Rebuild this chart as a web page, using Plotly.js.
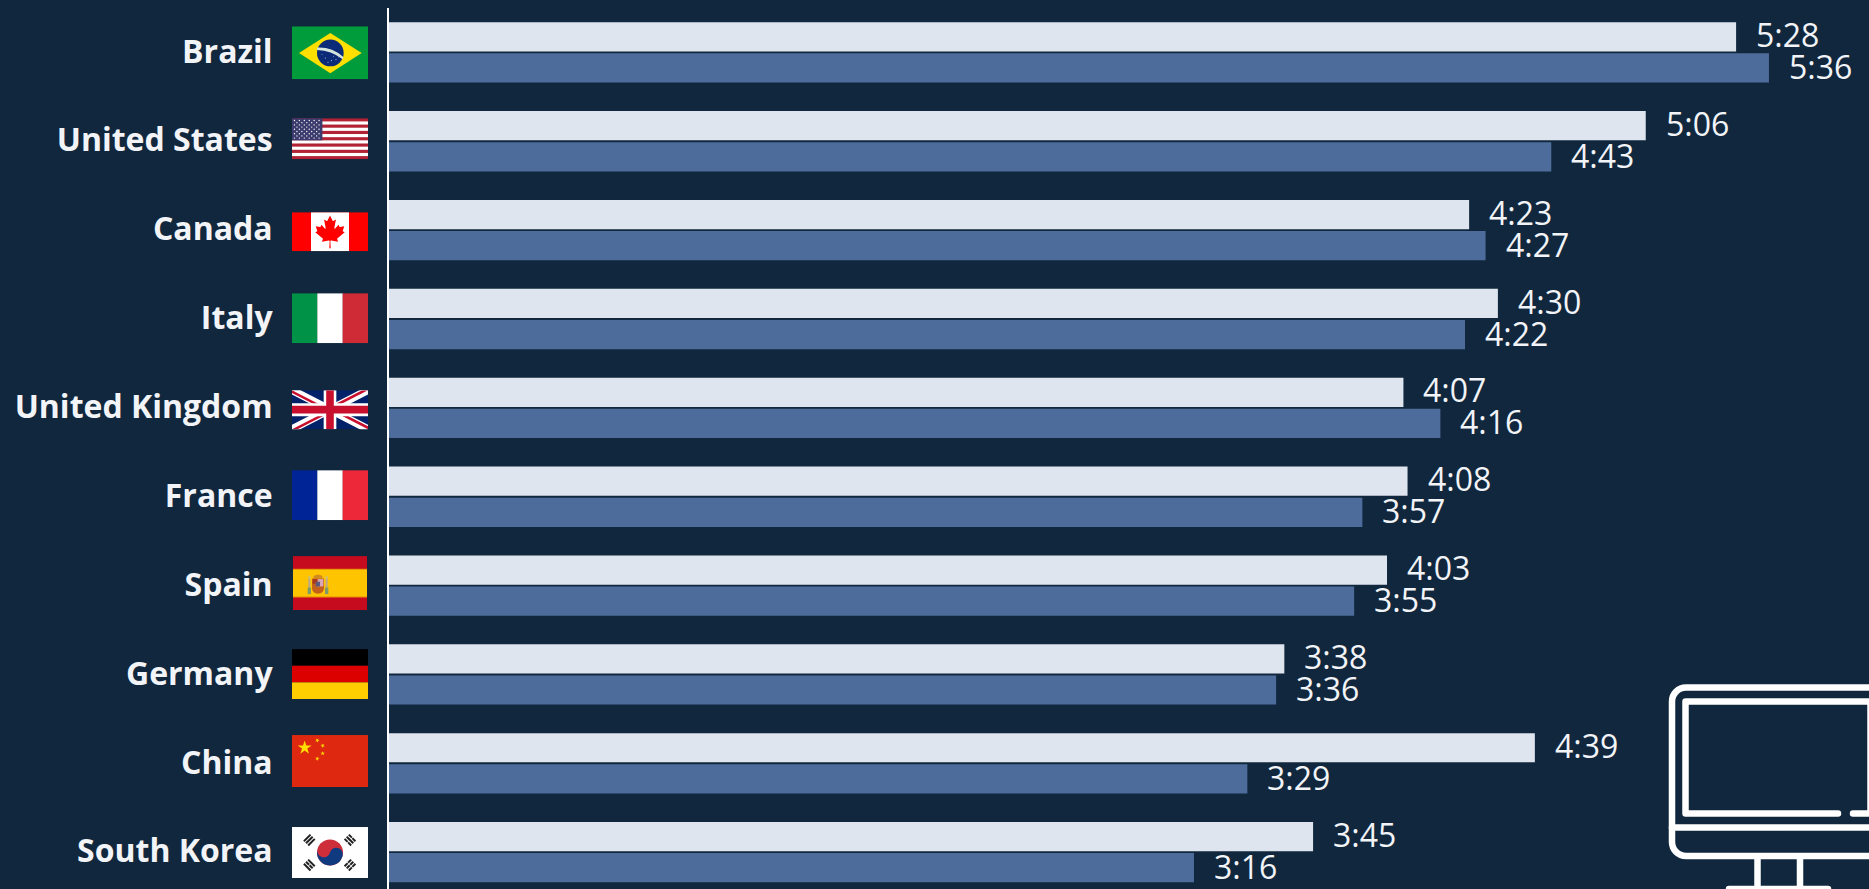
<!DOCTYPE html>
<html>
<head>
<meta charset="utf-8">
<title>Daily time online by country</title>
<script src="https://cdn.plot.ly/plotly-3.0.1.min.js"></script>
<style>
  html, body { margin: 0; padding: 0; background: #11273d; overflow: hidden; }
  #chart { width: 1869px; height: 889px; }
</style>
</head>
<body>
<div id="chart"></div>
<script>
// Countries, top to bottom
const countries = ['Brazil', 'United States', 'Canada', 'Italy', 'United Kingdom',
                   'France', 'Spain', 'Germany', 'China', 'South Korea'];

// Daily time as h:mm
const lightSeries = ['5:28', '5:06', '4:23', '4:30', '4:07', '4:08', '4:03', '3:38', '4:39', '3:45'];
const darkSeries  = ['5:36', '4:43', '4:27', '4:22', '4:16', '3:57', '3:55', '3:36', '3:29', '3:16'];

const toMinutes = s => { const [h, m] = s.split(':').map(Number); return h * 60 + m; };

const BG = '#11273d';
const LIGHT = '#dfe5ef';
const DARK = '#4d6c9b';
const WIDTH = 1869, HEIGHT = 889;
const M = { l: 389, r: 0, t: 7.7, b: 0 };
const plotW = WIDTH - M.l - M.r, plotH = HEIGHT - M.t - M.b;
const PX_PER_ROW = 88.89;

const svgUri = (w, h, vb, body) => 'data:image/svg+xml;charset=utf-8,' + encodeURIComponent(
  `<svg xmlns="http://www.w3.org/2000/svg" width="${w}" height="${h}" viewBox="${vb}" preserveAspectRatio="none">${body}</svg>`);

// Flag artwork, each in its own drawing units
const bars = colors => colors.map((c, i) =>
  `<rect x="${i * 100}" y="0" width="100.5" height="200" fill="${c}"/>`).join('');

const usStripes = () => {
  let s = '<rect width="247" height="130" fill="#b22234"/>';
  for (let i = 1; i < 13; i += 2) s += `<rect y="${i * 10}" width="247" height="10" fill="#fff"/>`;
  return s;
};

const star = (cx, cy, r, rot, fill) => {
  let pts = [];
  for (let i = 0; i < 10; i++) {
    const a = (rot + i * 36 - 90) * Math.PI / 180, q = i % 2 ? r * 0.382 : r;
    pts.push((cx + q * Math.cos(a)).toFixed(2) + ',' + (cy + q * Math.sin(a)).toFixed(2));
  }
  return `<polygon points="${pts.join(' ')}" fill="${fill}"/>`;
};

const usStars = () => {
  let s = '';
  for (let r = 0; r < 9; r++) {
    const n = r % 2 ? 5 : 6;
    for (let c = 0; c < n; c++) {
      s += `<circle cx="${(r % 2 ? 16 : 8) + c * 16}" cy="${7 + r * 7}" r="2.2" fill="#fff"/>`;
    }
  }
  return s;
};

const trigram = (x, y, rot, pattern) => {
  let s = `<g transform="translate(${x} ${y}) rotate(${rot})">`;
  pattern.forEach((broken, i) => {
    const yy = -12 + i * 9;
    if (broken) {
      s += `<rect x="-14" y="${yy}" width="13" height="6" fill="#222"/><rect x="1" y="${yy}" width="13" height="6" fill="#222"/>`;
    } else {
      s += `<rect x="-14" y="${yy}" width="28" height="6" fill="#222"/>`;
    }
  });
  return s + '</g>';
};

const flagArt = {
  'Brazil': ['0 0 228 159',
    `<rect width="228" height="159" fill="#009b3a"/>
     <polygon points="21,80 115,20 209,80 115,141" fill="#fedf00"/>
     <circle cx="115" cy="80" r="40" fill="#0b2a78"/>
     <path d="M76,64 Q120,62 154,92 L152,99 Q118,72 75,71 Z" fill="#d7e6dc"/>
     <g fill="#c8d4e8"><circle cx="100" cy="95" r="1.6"/><circle cx="118" cy="103" r="1.6"/><circle cx="132" cy="100" r="1.6"/><circle cx="108" cy="108" r="1.6"/><circle cx="90" cy="84" r="1.4"/><circle cx="124" cy="90" r="1.4"/><circle cx="140" cy="92" r="1.4"/></g>`],
  'United States': ['0 0 247 130', usStripes() + `<rect width="98.8" height="70" fill="#3c3b6e"/>` + usStars()],
  'Canada': ['0 0 9600 4800',
    `<rect width="9600" height="4800" fill="#f00"/><rect x="2400" width="4800" height="4800" fill="#fff"/>
     <path transform="translate(4800 2400)" fill="#f00" d="m-90 2030 45-863a95 95 0 0 0-111-98l-859 151 116-320a65 65 0 0 0-20-73l-941-762 212-99a65 65 0 0 0 34-79l-186-572 542 115a65 65 0 0 0 73-38l105-247 423 454a65 65 0 0 0 111-57l-204-1052 327 189a65 65 0 0 0 91-27l332-652 332 652a65 65 0 0 0 91 27l327-189-204 1052a65 65 0 0 0 111 57l423-454 105 247a65 65 0 0 0 73 38l542-115-186 572a65 65 0 0 0 34 79l212 99-941 762a65 65 0 0 0-20 73l116 320-859-151a95 95 0 0 0-111 98l45 863z"/>`],
  'Italy': ['0 0 300 200', bars(['#009246', '#fff', '#ce2b37'])],
  'United Kingdom': ['0 0 60 30',
    `<defs><clipPath id="uk"><path d="M30,15 h30 v15 z v15 h-30 z h-30 v-15 z v-15 h30 z"/></clipPath></defs>
     <rect width="60" height="30" fill="#012169"/>
     <path d="M0,0 L60,30 M60,0 L0,30" stroke="#fff" stroke-width="6"/>
     <path d="M0,0 L60,30 M60,0 L0,30" clip-path="url(#uk)" stroke="#c8102e" stroke-width="4"/>
     <path d="M30,0 v30 M0,15 h60" stroke="#fff" stroke-width="10"/>
     <path d="M30,0 v30 M0,15 h60" stroke="#c8102e" stroke-width="6"/>`],
  'France': ['0 0 300 200', bars(['#002395', '#fff', '#ed2939'])],
  'Spain': ['0 0 222 162',
    `<rect width="222" height="162" fill="#c60b1e"/><rect y="39" width="222" height="84" fill="#ffc400"/>
     <rect y="38" width="222" height="3" fill="#e8930a"/><rect y="121" width="222" height="3" fill="#e8930a"/>
     <g transform="translate(75 82)">
       <path d="M-13,-22 Q0,-32 13,-22 L13,-15 L-13,-15 Z" fill="#d18a1e"/>
       <rect x="-30" y="-22" width="8" height="8" fill="#d8c060"/>
       <rect x="-29" y="-14" width="6" height="26" fill="#b8a890"/>
       <rect x="-31" y="12" width="10" height="20" fill="#7d9a6e"/>
       <rect x="22" y="-22" width="8" height="8" fill="#d8c060"/>
       <rect x="23" y="-14" width="6" height="26" fill="#b8a890"/>
       <rect x="21" y="12" width="10" height="20" fill="#7d9a6e"/>
       <path d="M-18,-15 H18 V14 Q18,30 0,31 Q-18,30 -18,14 Z" fill="#c4601c"/>
       <rect x="-1" y="-13" width="17" height="22" fill="#d8a8b8"/>
       <rect x="-16" y="-13" width="14" height="14" fill="#a8381c"/>
       <rect x="-7" y="-5" width="13" height="14" fill="#5a5a80"/>
     </g>`],
  'Germany': ['0 0 300 150',
    `<rect width="300" height="50" fill="#000"/><rect y="50" width="300" height="50" fill="#d00"/><rect y="100" width="300" height="50" fill="#ffce00"/>`],
  'China': ['0 0 228 156',
    `<rect width="228" height="156" fill="#de2910"/>` +
    star(38, 38, 22, 0, '#ffde00') + star(76, 16, 7, 23, '#ffde00') + star(92, 32, 7, 46, '#ffde00') +
    star(92, 55, 7, 70, '#ffde00') + star(76, 71, 7, 21, '#ffde00')],
  'South Korea': ['0 0 228 153',
    `<rect width="228" height="153" fill="#fff"/>
     <g transform="translate(114 76.5)">
       <circle r="39" fill="#cd2e3a"/>
       <path d="M-39,0 A39,39 0 0 0 39,0 A19.5,19.5 0 0 0 0,0 A19.5,19.5 0 0 1 -39,0 Z" fill="#0f3a80" transform="rotate(15)"/>
     </g>` +
    trigram(52, 39, -45, [0, 0, 0]) + trigram(174, 39, 45, [1, 0, 1]) +
    trigram(52, 114, 45, [0, 1, 0]) + trigram(174, 114, -45, [1, 1, 1])]
};

// Flag boxes on the page: left, top, right, bottom
const flagBoxes = {
  'Brazil': [292, 26, 368, 79], 'United States': [292, 118, 368, 159],
  'Canada': [292, 212, 368, 251], 'Italy': [292, 293, 368, 343],
  'United Kingdom': [292, 390, 368, 429], 'France': [292, 470, 368, 520],
  'Spain': [293, 556, 367, 610], 'Germany': [292, 649, 368, 699],
  'China': [292, 735, 368, 787], 'South Korea': [292, 827, 368, 878]
};

const paperX = px => (px - M.l) / plotW;
const paperY = py => 1 - (py - M.t) / plotH;

const flagImages = countries.map(name => {
  const [x0, y0, x1, y1] = flagBoxes[name];
  const [vb, body] = flagArt[name];
  return {
    source: svgUri((x1 - x0) * 2, (y1 - y0) * 2, vb, body),
    xref: 'paper', yref: 'paper', x: paperX(x0), y: paperY(y0),
    sizex: (x1 - x0) / plotW, sizey: (y1 - y0) / plotH,
    sizing: 'stretch', xanchor: 'left', yanchor: 'top', layer: 'above'
  };
});

// Desktop monitor icon in the lower right corner, drawn in page pixels
const monitorBody = `<g fill="none" stroke="#fff" stroke-width="6.5" stroke-linecap="round" stroke-linejoin="round">
  <path d="M1885 687.5 H1686 a14 14 0 0 0 -14 14 V842 a14 14 0 0 0 14 14 H1885"/>
  <path d="M1672 827.5 H1885"/>
  <path d="M1838 813.5 H1685.5 V701.5 H1870.5 V813.5 H1853"/>
  <path d="M1757.5 858 V888"/><path d="M1800 858 V888"/>
  <path d="M1729 889 H1828"/></g>`;
const monitorImage = {
  source: svgUri(418, 418, '1660 680 209 209', monitorBody),
  xref: 'paper', yref: 'paper', x: paperX(1660), y: paperY(680),
  sizex: 209 / plotW, sizey: 209 / plotH,
  sizing: 'stretch', xanchor: 'left', yanchor: 'top', layer: 'above'
};

const barTrace = (labels, color) => ({
  type: 'bar', orientation: 'h', y: countries, x: labels.map(toMinutes),
  marker: { color, line: { width: 0 } }, hoverinfo: 'y+text', hovertext: labels, showlegend: false
});

// Value labels sit right of each bar, offset vertically into the bar's slot
const valueLabels = (labels, yshift) => labels.map((t, i) => ({
  x: toMinutes(t), y: countries[i], xref: 'x', yref: 'y', text: t, showarrow: false,
  xanchor: 'left', yanchor: 'middle', xshift: 18, yshift,
  font: { family: 'Open Sans', size: 32, color: '#f2f4f8' }
}));

Plotly.newPlot('chart', [barTrace(lightSeries, LIGHT), barTrace(darkSeries, DARK)], {
  width: WIDTH, height: HEIGHT,
  margin: M,
  paper_bgcolor: BG, plot_bgcolor: BG,
  barmode: 'group', bargap: 0.3, bargroupgap: 0.06,
  showlegend: false,
  xaxis: { range: [0, plotW / 4.107], visible: false, fixedrange: true },
  yaxis: {
    type: 'category', categoryorder: 'array', categoryarray: countries,
    range: [(plotH / PX_PER_ROW) - 0.5, -0.5],
    showline: true, linecolor: '#ffffff', linewidth: 2, showgrid: false, zeroline: false,
    ticks: '', ticklabelstandoff: 108, ticklabelshift: 1, fixedrange: true,
    tickfont: { family: 'Open Sans', size: 32, color: '#f2f4f8', weight: 700 }
  },
  images: flagImages.concat([monitorImage]),
  annotations: valueLabels(lightSeries, 18).concat(valueLabels(darkSeries, -14))
}, { displayModeBar: false, responsive: false });
</script>
</body>
</html>
